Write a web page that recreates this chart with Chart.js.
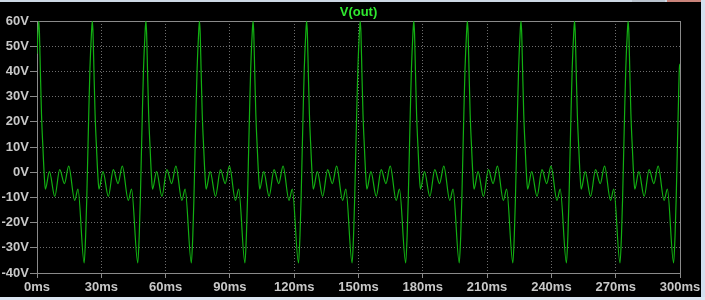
<!DOCTYPE html>
<html>
<head>
<meta charset="utf-8">
<title>V(out)</title>
<script src="https://cdn.jsdelivr.net/npm/chart.js@4.4.1/dist/chart.umd.min.js"></script>
<style>
  html, body { margin: 0; padding: 0; background: #000; }
  #wrap { position: relative; width: 705px; height: 300px; overflow: hidden; background: #000; }
  #wrap canvas { position: absolute; left: 0; top: 0; }
  .chrome { position: absolute; }
</style>
</head>
<body>
<div id="wrap">
  <canvas id="scope" width="705" height="300"></canvas>
  <div class="chrome" style="left:0;top:0;width:705px;height:2px;background:#cdd8e4"></div>
  <div class="chrome" style="left:632px;top:0;width:33px;height:2px;background:#b9c3ce"></div>
  <div class="chrome" style="left:667px;top:0;width:34px;height:2px;background:#c9837a"></div>
  <div class="chrome" style="left:701px;top:0;width:4px;height:300px;background:#d3e1ef"></div>
  <div class="chrome" style="left:0;top:297px;width:705px;height:3px;background:#dbe6f2"></div>
</div>
<script>
// trace name shown above the plot
const traceName = "V(out)";

// time of each big positive peak (ms)
const peakTimesMs = [0.8, 25.8, 50.8, 75.8, 100.8, 125.8, 150.8, 175.8, 200.8, 225.8, 250.8, 275.8];

// one cycle of the waveform, offsets from the peak (ms) and volts
const cycleOffsetMs = [0, 0.35, 0.75, 1.3, 2.0, 2.6, 3.1, 5.0, 7.5, 9.8, 12.0, 14.0, 16.8, 18.3, 21.2, 21.9, 22.4, 22.9, 23.4, 23.9, 24.6];
const cycleVolts    = [60, 55, 41, 23, 9, -1.5, -6.7, 0.2, -9.6, 1.0, -4.5, 2.4, -11.2, -6.7, -36, -25, -11, 7, 25, 41, 55];

// value at the left and right edges of the window
const edgeTimesMs = [0, 300];
const edgeVolts = [47, 43];

const timeTickLabels = ["0ms", "30ms", "60ms", "90ms", "120ms", "150ms", "180ms", "210ms", "240ms", "270ms", "300ms"];
const voltTickLabels = ["-40V", "-30V", "-20V", "-10V", "0V", "10V", "20V", "30V", "40V", "50V", "60V"];

const labelFont = { family: "'Liberation Sans', Arial, sans-serif", size: 13, weight: "bold" };
const labelColor = "#c8c8c8";
const frameColor = "#8a8a8a";
const gridColor = "#6e6e6e";
const traceColor = "#12b012";
const titleColor = "#2fe82f";

// build the point list from the cycle table
const points = [{ x: edgeTimesMs[0], y: edgeVolts[0] }];
peakTimesMs.forEach(p => {
  cycleOffsetMs.forEach((off, i) => {
    const t = p + off;
    if (t < edgeTimesMs[1]) points.push({ x: t, y: cycleVolts[i] });
  });
});
points.push({ x: edgeTimesMs[1], y: edgeVolts[1] });

const framePlugin = {
  id: "frame",
  beforeDatasetsDraw(chart) {
    const { ctx, chartArea: a } = chart;
    ctx.save();
    ctx.strokeStyle = frameColor;
    ctx.lineWidth = 1;
    ctx.strokeRect(Math.round(a.left) + 0.5, Math.round(a.top) + 0.5,
      Math.round(a.right - a.left), Math.round(a.bottom - a.top));
    ctx.restore();
  },
  afterDraw(chart) {
    const { ctx, chartArea: a } = chart;
    ctx.save();
    ctx.font = "bold 13px 'Liberation Sans', Arial, sans-serif";
    ctx.fillStyle = titleColor;
    ctx.textAlign = "center";
    ctx.textBaseline = "middle";
    ctx.fillText(traceName, (a.left + a.right) / 2, 12.5);
    ctx.restore();
  }
};

new Chart(document.getElementById("scope"), {
  type: "line",
  data: {
    datasets: [{
      label: traceName,
      data: points,
      borderColor: traceColor,
      borderWidth: 1.2,
      pointRadius: 0,
      fill: false,
      cubicInterpolationMode: "monotone"
    }]
  },
  options: {
    responsive: false,
    animation: false,
    devicePixelRatio: 1,
    layout: { padding: { top: 21, right: 25, bottom: 0, left: 0 } },
    plugins: {
      legend: { display: false },
      tooltip: { enabled: false },
      title: { display: false }
    },
    scales: {
      x: {
        type: "linear",
        min: 0,
        max: 300,
        afterFit: s => { s.height = 27; },
        ticks: {
          stepSize: 30,
          autoSkip: false,
          maxRotation: 0,
          padding: 2,
          color: labelColor,
          font: labelFont,
          callback: (v, i) => timeTickLabels[i]
        },
        grid: { color: gridColor, tickColor: frameColor, tickLength: 5 },
        border: { display: false, dash: [1, 2] }
      },
      y: {
        min: -40,
        max: 60,
        afterFit: s => { s.width = 37; },
        ticks: {
          stepSize: 10,
          padding: 1,
          color: labelColor,
          font: labelFont,
          callback: (v, i) => voltTickLabels[i]
        },
        grid: { color: gridColor, tickColor: frameColor, tickLength: 7 },
        border: { display: false, dash: [1, 2] }
      }
    }
  },
  plugins: [framePlugin]
});
</script>
</body>
</html>
